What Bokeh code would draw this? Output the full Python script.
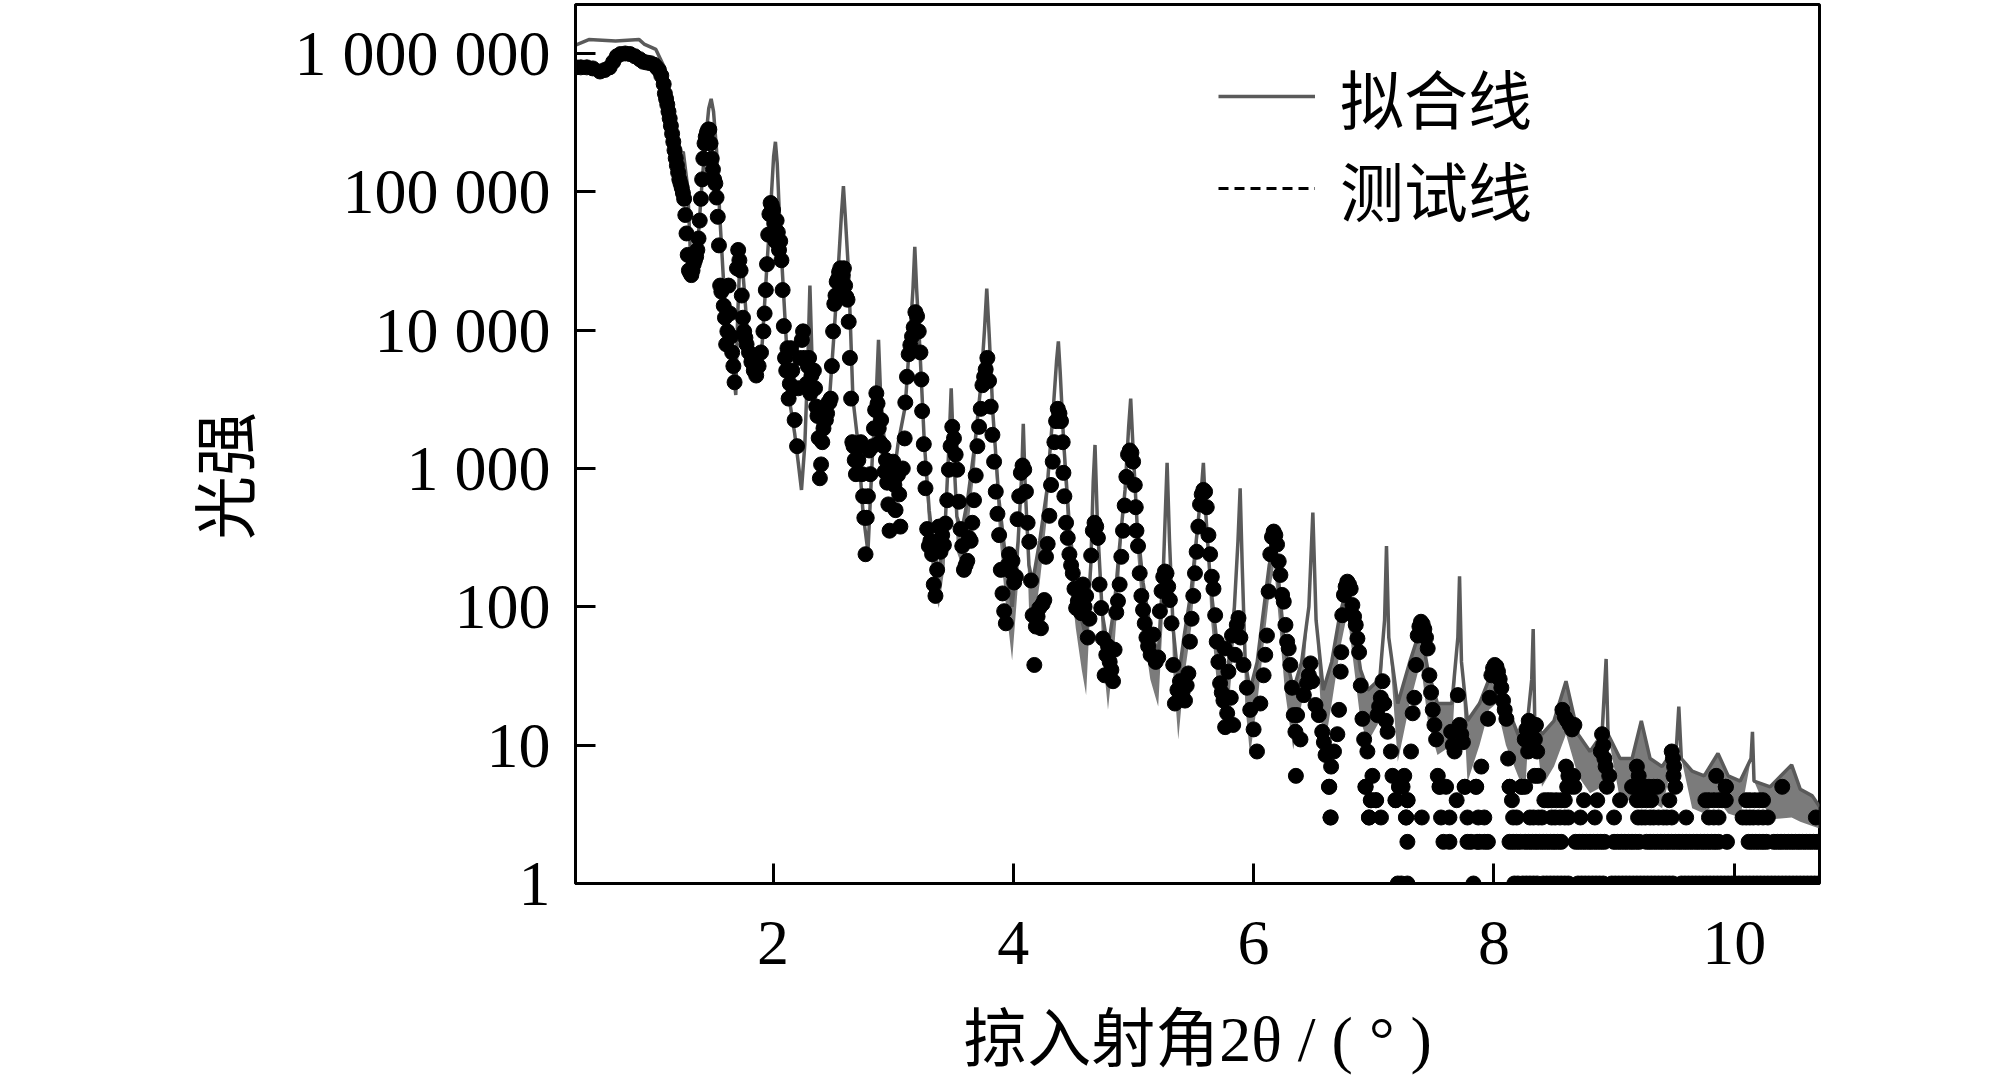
from bokeh.plotting import figure
from bokeh.models import Range1d, FixedTicker, Legend, LegendItem
from bokeh.embed import file_html
from bokeh.resources import INLINE

# ---------------- data ----------------
x_ticks = [2, 4, 6, 8, 10]
y_ticks = [1, 10, 100, 1000, 10000, 100000, 1000000]
y_tick_labels = ["1", "10", "100", "1 000", "10 000", "100 000", "1 000 000"]

legend_fit = "拟合线"
legend_meas = "测试线"
x_title = "掠入射角2θ / ( ° )"
y_title = "光强\u3000"

# fitted curve (upper line) and lower envelope of its fast oscillation
fit_x = [
    0.356, 0.467, 0.690, 0.886, 0.927, 1.025, 1.095, 1.136, 1.192, 1.234,
    1.253, 1.290, 1.310, 1.325, 1.350, 1.380, 1.410, 1.440, 1.465, 1.485,
    1.505, 1.530, 1.560, 1.600, 1.640, 1.670, 1.690, 1.705, 1.720, 1.740,
    1.760, 1.790, 1.830, 1.870, 1.910, 1.950, 1.985, 2.005, 2.020, 2.035,
    2.060, 2.100, 2.140, 2.180, 2.210, 2.237, 2.265, 2.290, 2.307, 2.325,
    2.350, 2.390, 2.430, 2.470, 2.510, 2.545, 2.570, 2.586, 2.600, 2.630,
    2.665, 2.710, 2.750, 2.790, 2.830, 2.860, 2.878, 2.895, 2.930, 2.990,
    3.040, 3.100, 3.140, 3.165, 3.180, 3.195, 3.220, 3.260, 3.300, 3.340,
    3.380, 3.430, 3.465, 3.483, 3.500, 3.530, 3.570, 3.620, 3.680, 3.730,
    3.760, 3.779, 3.800, 3.830, 3.880, 3.930, 3.990, 4.040, 4.070, 4.083,
    4.100, 4.130, 4.160, 4.220, 4.280, 4.330, 4.360, 4.375, 4.390, 4.420,
    4.470, 4.520, 4.570, 4.606, 4.645, 4.665, 4.680, 4.700, 4.740, 4.788,
    4.840, 4.880, 4.930, 4.960, 4.977, 4.995, 5.030, 5.080, 5.140, 5.206,
    5.250, 5.280, 5.300, 5.330, 5.373, 5.420, 5.480, 5.530, 5.565, 5.582,
    5.600, 5.640, 5.700, 5.777, 5.840, 5.870, 5.888, 5.905, 5.930, 5.970,
    6.030, 6.080, 6.130, 6.170, 6.210, 6.260, 6.330, 6.400, 6.460, 6.493,
    6.520, 6.580, 6.650, 6.720, 6.780, 6.830, 6.890, 6.950, 7.050, 7.090,
    7.106, 7.125, 7.200, 7.300, 7.390, 7.450, 7.530, 7.650, 7.700, 7.714,
    7.730, 7.780, 7.880, 7.960, 8.020, 8.100, 8.200, 8.260, 8.315, 8.327,
    8.340, 8.400, 8.500, 8.600, 8.700, 8.800, 8.900, 8.934, 8.950, 9.050,
    9.150, 9.227, 9.300, 9.400, 9.520, 9.539, 9.560, 9.650, 9.750, 9.865,
    9.950, 10.050, 10.140, 10.152, 10.165, 10.300, 10.478, 10.550, 10.650, 10.710,
]
fit_y = [
    1150000, 1260000, 1230000, 1260000, 1170000, 1070000, 794000, 513000, 263000, 186000,
    195000, 107000, 40000, 28000, 33000, 50000, 120000, 240000, 400000, 470000,
    380000, 200000, 60000, 15000, 9000, 5000, 3400, 12000, 26000, 33000,
    20000, 9000, 6000, 4700, 8000, 30000, 90000, 180000, 230000, 160000,
    50000, 12000, 3000, 1800, 1100, 700, 1500, 6000, 21000, 6000,
    3500, 1500, 2100, 3200, 10000, 30000, 70000, 110000, 70000, 25000,
    3200, 1450, 470, 250, 1400, 3500, 8500, 3500, 1400, 700,
    1500, 2800, 9000, 20000, 40000, 20000, 8000, 1500, 500, 250,
    180, 350, 1500, 3800, 1500, 450, 350, 600, 1500, 4000,
    10000, 20000, 9000, 2500, 600, 250, 100, 300, 900, 2100,
    700, 200, 150, 300, 700, 2500, 6000, 8300, 5000, 1500,
    350, 150, 80, 60, 200, 800, 1480, 400, 90, 50,
    100, 250, 700, 2000, 3200, 1500, 400, 150, 70, 45,
    200, 1100, 300, 70, 30, 60, 130, 350, 700, 1100,
    500, 150, 50, 30, 100, 300, 720, 200, 40, 25,
    40, 90, 200, 280, 150, 50, 25, 40, 100, 480,
    80, 25, 40, 90, 140, 80, 35, 25, 30, 80,
    275, 60, 20, 40, 70, 35, 20, 20, 60, 166,
    40, 15, 20, 30, 35, 20, 12, 10, 30, 69,
    15, 12, 15, 29, 12, 9, 12, 42, 12, 8,
    8, 15, 8, 7, 10, 19, 8, 6.5, 6, 8.7,
    6, 5.5, 8, 12.5, 5.5, 5, 7.2, 4.8, 4.3, 3.6,
]
fit_lo = [
    1150000, 1260000, 1230000, 1260000, 1170000, 1070000, 794000, 513000, 263000, 186000,
    195000, 107000, 40000, 28000, 33000, 50000, 120000, 240000, 400000, 470000,
    380000, 200000, 60000, 15000, 9000, 5000, 3400, 12000, 26000, 33000,
    20000, 9000, 6000, 4700, 8000, 30000, 90000, 180000, 230000, 160000,
    50000, 12000, 3000, 1800, 1100, 700, 1500, 6000, 21000, 6000,
    3500, 1500, 2100, 3200, 10000, 30000, 70000, 110000, 70000, 25000,
    3200, 1450, 470, 250, 1400, 3500, 8500, 3500, 1400, 700,
    1500, 2800, 9000, 20000, 40000, 20000, 8000, 1100, 300, 130,
    98, 200, 1500, 3800, 1500, 250, 200, 350, 1000, 4000,
    10000, 20000, 9000, 2000, 350, 120, 41, 150, 900, 2100,
    700, 100, 63, 150, 450, 2500, 6000, 8300, 5000, 1000,
    180, 70, 35, 23, 120, 800, 1480, 400, 50, 18,
    50, 150, 700, 2000, 3200, 1500, 250, 70, 30, 19,
    100, 1100, 300, 35, 11, 30, 70, 250, 700, 1100,
    500, 90, 25, 13, 60, 300, 720, 200, 20, 8.5,
    20, 50, 120, 200, 80, 25, 9.3, 20, 100, 480,
    80, 8.5, 20, 50, 90, 40, 15, 10.5, 15, 80,
    275, 60, 7.6, 20, 40, 15, 8.5, 10, 60, 166,
    40, 5.4, 10, 18, 20, 10, 6, 4.6, 30, 69,
    15, 5, 7, 12, 6, 4.5, 5, 42, 12, 4,
    4, 7, 4, 3.5, 10, 19, 8, 3.5, 3.2, 4,
    3.2, 3, 8, 12.5, 5.5, 2.9, 3, 2.8, 2.6, 2.5,
]

# measured points, 0.36 - 2.98
meas_a_x = [
    0.36, 0.40, 0.45, 0.50, 0.56, 0.60, 0.64, 0.67, 0.70, 0.73,
    0.77, 0.81, 0.85, 0.89, 0.92, 0.95, 0.98, 1.01, 1.03, 1.05,
    1.07, 1.09, 1.10, 1.11, 1.12, 1.13, 1.14, 1.15, 1.16, 1.17,
    1.18, 1.19, 1.20, 1.21, 1.22, 1.23, 1.24, 1.25, 1.26, 1.27,
    1.28, 1.29, 1.30, 1.31, 1.32, 1.33, 1.34, 1.35, 1.36, 1.37,
    1.38, 1.39, 1.40, 1.41, 1.42, 1.43, 1.44, 1.45, 1.46, 1.47,
    1.48, 1.49, 1.50, 1.51, 1.52, 1.53, 1.54, 1.55, 1.56, 1.57,
    1.58, 1.59, 1.60, 1.61, 1.62, 1.63, 1.64, 1.65, 1.66, 1.67,
    1.68, 1.70, 1.71, 1.72, 1.73, 1.74, 1.75, 1.76, 1.77, 1.78,
    1.80, 1.82, 1.84, 1.86, 1.88, 1.90, 1.92, 1.93, 1.94, 1.95,
    1.96, 1.97, 1.98, 1.99, 2.00, 2.01, 2.02, 2.03, 2.04, 2.05,
    2.06, 2.07, 2.08, 2.09, 2.10, 2.11, 2.12, 2.13, 2.14, 2.15,
    2.16, 2.17, 2.18, 2.20, 2.21, 2.22, 2.24, 2.25, 2.26, 2.28,
    2.29, 2.30, 2.31, 2.32, 2.34, 2.35, 2.36, 2.37, 2.38, 2.39,
    2.40, 2.41, 2.42, 2.43, 2.44, 2.45, 2.46, 2.47, 2.48, 2.49,
    2.50, 2.51, 2.52, 2.53, 2.54, 2.55, 2.56, 2.57, 2.58, 2.59,
    2.60, 2.61, 2.62, 2.63, 2.64, 2.65, 2.66, 2.67, 2.68, 2.69,
    2.70, 2.71, 2.72, 2.73, 2.74, 2.75, 2.76, 2.77, 2.78, 2.79,
    2.80, 2.81, 2.83, 2.84, 2.85, 2.86, 2.87, 2.88, 2.89, 2.90,
    2.92, 2.93, 2.94, 2.95, 2.96, 2.97, 2.98,
]
meas_a_y = [
    794000, 794000, 794000, 780000, 741000, 760000, 794000, 870000, 955000, 990000,
    1000000, 990000, 955000, 910000, 871000, 860000, 851000, 830000, 794000, 760000,
    692000, 600000, 513000, 470000, 427000, 380000, 339000, 300000, 263000, 230000,
    200000, 175000, 155000, 138000, 123000, 115000, 107000, 98000, 89000, 68000,
    50000, 35000, 27000, 26000, 25000, 27000, 30000, 32000, 34000, 38000,
    46000, 62000, 89000, 123000, 174000, 224000, 250000, 269000, 282000, 282000,
    224000, 174000, 145000, 123000, 115000, 91000, 66000, 41000, 21000, 19000,
    20000, 15000, 12300, 7900, 9800, 21000, 13200, 9000, 6900, 5500,
    4200, 28000, 38000, 32000, 27000, 17800, 12300, 9800, 8800, 7900,
    6900, 5900, 5100, 4700, 5500, 6900, 9800, 13200, 19500, 30000,
    49000, 69000, 83000, 80000, 74000, 59000, 44000, 62000, 51000, 38000,
    44000, 32000, 19500, 10700, 6300, 5100, 7400, 3200, 4100, 7400,
    5100, 3800, 2240, 1450, 3800, 6300, 8500, 9800, 6300, 4100,
    5500, 6300, 3500, 4700, 5100, 3800, 2800, 2400, 1660, 850,
    1070, 1550, 1950, 2700, 2240, 2500, 3000, 3000, 3200, 5500,
    9800, 15500, 17800, 22400, 23400, 26300, 28000, 27000, 25000, 28000,
    21000, 17400, 16600, 11500, 6300, 3200, 1550, 1450, 1150, 910,
    1450, 1150, 1450, 1550, 910, 630, 440, 240, 440, 630,
    1350, 910, 1450, 1950, 2650, 3500, 2950, 1950, 1550, 2240,
    1450, 950, 1150, 790, 550, 355, 910,
]

# measured points, 3.00 - 5.76
meas_b_x = [
    3.00, 3.01, 3.02, 3.04, 3.05, 3.06, 3.08, 3.096, 3.101, 3.115,
    3.129, 3.143, 3.157, 3.171, 3.185, 3.199, 3.213, 3.227, 3.235, 3.241,
    3.255, 3.262, 3.269, 3.283, 3.297, 3.31, 3.324, 3.338, 3.352, 3.366,
    3.38, 3.394, 3.408, 3.422, 3.436, 3.45, 3.464, 3.478, 3.492, 3.506,
    3.52, 3.533, 3.547, 3.561, 3.575, 3.589, 3.603, 3.617, 3.631, 3.645,
    3.659, 3.673, 3.687, 3.701, 3.715, 3.729, 3.743, 3.757, 3.77, 3.784,
    3.798, 3.812, 3.826, 3.84, 3.854, 3.868, 3.882, 3.896, 3.91, 3.924,
    3.938, 3.952, 3.965, 3.979, 3.993, 4.007, 4.021, 4.035, 4.049, 4.063,
    4.077, 4.091, 4.105, 4.119, 4.133, 4.147, 4.161, 4.175, 4.188, 4.202,
    4.216, 4.23, 4.244, 4.258, 4.272, 4.286, 4.30, 4.314, 4.328, 4.342,
    4.356, 4.37, 4.384, 4.397, 4.411, 4.417, 4.425, 4.439, 4.453, 4.467,
    4.481, 4.495, 4.509, 4.523, 4.537, 4.551, 4.565, 4.579, 4.593, 4.606,
    4.62, 4.634, 4.648, 4.662, 4.676, 4.69, 4.704, 4.718, 4.732, 4.746,
    4.76, 4.774, 4.788, 4.802, 4.816, 4.83, 4.843, 4.857, 4.871, 4.885,
    4.899, 4.913, 4.927, 4.941, 4.955, 4.969, 4.983, 4.997, 5.011, 5.019,
    5.025, 5.038, 5.052, 5.066, 5.08, 5.094, 5.108, 5.122, 5.143, 5.164,
    5.185, 5.206, 5.22, 5.234, 5.248, 5.262, 5.275, 5.289, 5.303, 5.317,
    5.331, 5.345, 5.366, 5.387, 5.408, 5.429, 5.443, 5.457, 5.47, 5.484,
    5.498, 5.512, 5.526, 5.54, 5.554, 5.568, 5.582, 5.596, 5.61, 5.624,
    5.638, 5.652, 5.666, 5.68, 5.693, 5.707, 5.721, 5.735, 5.749, 5.763,
]
meas_b_y = [
    1120, 760, 500, 900, 650, 380, 1000, 1650, 3000, 4600,
    6700, 7800, 9000, 10500, 13500, 12600, 9800, 6900, 4400, 2600,
    1500, 1000, 720, 365, 275, 300, 240, 145, 120, 185,
    380, 250, 330, 280, 400, 590, 980, 1450, 2000, 1650,
    1260, 980, 575, 365, 275, 185, 200, 215, 315, 300,
    405, 590, 890, 1450, 2000, 2700, 4000, 4600, 5200, 6300,
    4300, 2800, 1750, 1120, 680, 470, 330, 185, 125, 93,
    76, 200, 240, 180, 215, 150, 165, 430, 630, 930,
    1050, 980, 680, 405, 295, 155, 87, 38, 72, 85,
    98, 70, 105, 112, 230, 285, 455, 760, 1120, 1550,
    2200, 2700, 2500, 2200, 1550, 930, 630, 405, 315, 240,
    200, 175, 135, 98, 110, 120, 90, 145, 100, 120,
    60, 82, 235, 355, 405, 380, 315, 145, 98, 59,
    32, 45, 52, 40, 35, 29, 49, 91, 110, 145,
    230, 355, 540, 870, 1260, 1350, 1300, 1120, 760, 525,
    355, 275, 175, 120, 95, 76, 60, 52, 45, 63,
    40, 43, 93, 130, 165, 180, 175, 140, 112, 76,
    38, 20, 25, 29, 24, 21, 27, 33, 56, 82,
    120, 175, 250, 380, 550, 650, 700, 680, 525, 330,
    240, 165, 135, 87, 56, 40, 28, 24, 21, 13.5,
]

# measured points, 5.76 - 9.93 (fringe clusters)
meas_c_x = [
    5.76, 5.78, 5.79, 5.81, 5.82, 5.83, 5.845, 5.86, 5.874, 5.89,
    5.916, 5.944, 5.972, 6.000, 6.028, 6.056, 6.083, 6.097, 6.111, 6.125,
    6.139, 6.153, 6.167, 6.181, 6.195, 6.209, 6.223, 6.237, 6.251, 6.265,
    6.279, 6.292, 6.306, 6.320, 6.334, 6.348, 6.352, 6.362, 6.390, 6.418,
    6.445, 6.460, 6.474, 6.488, 6.515, 6.543, 6.571, 6.585, 6.599, 6.627,
    6.641, 6.645, 6.669, 6.697, 6.711, 6.725, 6.730, 6.738, 6.752, 6.766,
    6.780, 6.794, 6.808, 6.822, 6.836, 6.850, 6.864, 6.878, 6.892, 6.906,
    6.920, 6.933, 6.947, 6.961, 6.975, 6.989, 7.017, 7.031, 7.045, 7.059,
    7.073, 7.087, 7.101, 7.115, 7.143, 7.156, 7.184, 7.212, 7.240, 7.254,
    7.268, 7.282, 7.310, 7.324, 7.338, 7.352, 7.366, 7.380, 7.393, 7.407,
    7.421, 7.435, 7.449, 7.463, 7.477, 7.491, 7.505, 7.519, 7.533, 7.547,
    7.602, 7.644, 7.658, 7.672, 7.700, 7.714, 7.728, 7.742, 7.756, 7.853,
    7.895, 7.951, 7.965, 7.979, 7.993, 8.007, 8.021, 8.034, 8.048, 8.062,
    8.076, 8.090, 8.104, 8.118, 8.132, 8.230, 8.257, 8.27, 8.285, 8.29,
    8.31, 8.33, 8.341, 8.35, 8.36, 8.34, 8.369, 8.57, 8.59, 8.61,
    8.63, 8.65, 8.67, 8.62, 8.66, 8.60, 8.89, 8.90, 8.91, 8.92,
    8.93, 8.96, 9.19, 9.205, 9.48, 9.49, 9.50, 9.495, 9.85, 9.93,
]
meas_c_y = [
    50, 17, 34, 22, 62, 14, 45, 74, 83, 60,
    38, 26, 18, 13, 9, 20, 32, 45, 62, 129,
    240, 320, 350, 330, 282, 213, 170, 122, 109, 74,
    56, 50, 38, 26, 16.5, 12.5, 6, 16.5, 11, 23,
    28, 32, 39, 29, 19.5, 16.5, 12.5, 10.5, 8.5, 5,
    3, 7, 9, 12, 18, 34, 47, 87, 122, 140,
    152, 145, 135, 103, 85, 74, 59, 47, 27, 15.5,
    11, 5, 9, 3, 4, 6, 4, 16.5, 19, 22,
    29, 20, 15, 12.5, 9, 6, 4, 5, 5, 6,
    3, 4, 9, 17, 22, 38, 62, 72, 78, 75,
    69, 60, 50, 32, 24, 18, 14, 11, 6, 5,
    5, 12.5, 10, 9, 23, 14, 12, 10.5, 5, 5,
    7, 15.5, 22, 32, 36, 38, 37, 34, 30, 26,
    21, 18, 15.5, 8, 5, 5, 11, 13, 9, 15,
    12, 11, 11, 14, 9, 6, 6, 18, 16, 15,
    14, 13, 14, 6, 6, 7, 9, 12, 10, 8,
    7, 6, 7, 6, 9, 8, 7, 6, 6, 5,
]

# low-count measured points (integer counts) at large angle
count1_x = [7.20, 7.23, 7.28, 7.83, 8.17, 8.20, 8.24, 8.27, 8.30, 8.33, 8.36, 8.41, 8.44,
            8.47, 8.50, 8.53, 8.56, 8.59, 8.62, 8.70, 8.73, 8.76, 8.79, 8.82, 8.85, 8.88,
            8.91, 8.98, 9.01, 9.04, 9.07, 9.10, 9.13, 9.16, 9.19, 9.22, 9.25, 9.28, 9.31,
            9.34, 9.37, 9.40, 9.43, 9.46, 9.49, 9.56, 9.59, 9.62, 9.65, 9.68, 9.71, 9.74,
            9.77, 9.80, 9.83, 9.86, 9.89, 9.92, 9.95, 9.98, 10.01, 10.04, 10.07, 10.10,
            10.13, 10.16, 10.19, 10.22, 10.25, 10.28, 10.31, 10.34, 10.37, 10.40, 10.43,
            10.46, 10.49, 10.52, 10.55, 10.58, 10.61, 10.64, 10.67, 10.70, 10.73]
count2_x = [7.28, 7.58, 7.63, 7.78, 7.81, 7.86, 7.88, 7.92, 7.95, 8.13, 8.16, 8.19, 8.22,
            8.26, 8.29, 8.32, 8.35, 8.38, 8.41, 8.44, 8.47, 8.50, 8.53, 8.56, 8.68, 8.71,
            8.74, 8.77, 8.80, 8.83, 8.86, 8.89, 8.92, 9.00, 9.03, 9.06, 9.09, 9.12, 9.15,
            9.18, 9.21, 9.27, 9.30, 9.33, 9.36, 9.39, 9.42, 9.45, 9.48, 9.51, 9.54, 9.57,
            9.60, 9.63, 9.66, 9.69, 9.72, 9.75, 9.78, 9.81, 9.84, 9.87, 9.94, 10.12, 10.15,
            10.18, 10.21, 10.24, 10.27, 10.33, 10.36, 10.39, 10.42, 10.45, 10.48, 10.51,
            10.54, 10.57, 10.60, 10.63, 10.66, 10.69, 10.72]
count3_x = [6.64, 6.96, 7.06, 7.27, 7.40, 7.56, 7.63, 7.78, 7.87, 7.92, 8.16, 8.19, 8.30,
            8.33, 8.37, 8.40, 8.48, 8.51, 8.55, 8.59, 8.62, 8.72, 8.84, 9.00, 9.20, 9.23,
            9.26, 9.30, 9.33, 9.37, 9.41, 9.44, 9.48, 9.60, 9.79, 9.83, 9.87, 10.07, 10.10,
            10.13, 10.16, 10.20, 10.24, 10.28, 10.68]
count4_x = [6.98, 7.02, 7.18, 7.28, 7.69, 8.15, 8.42, 8.45, 8.48, 8.52, 8.56, 8.59, 8.75,
            8.86, 9.05, 9.19, 9.23, 9.27, 9.31, 9.46, 9.76, 9.79, 9.83, 9.87, 9.90, 9.93,
            10.10, 10.13, 10.17, 10.21, 10.24]
count5_x = [6.63, 6.93, 7.21, 7.55, 7.76, 7.85, 8.13, 8.23, 8.26, 8.61, 8.64, 8.67, 8.94,
            9.15, 9.19, 9.22, 9.26, 9.29, 9.33, 9.36, 9.51, 9.93, 10.40]

meas_x = (meas_a_x + meas_b_x + meas_c_x
          + count1_x + count2_x + count3_x + count4_x + count5_x)
meas_y = (meas_a_y + meas_b_y + meas_c_y
          + [1] * len(count1_x) + [2] * len(count2_x) + [3] * len(count3_x)
          + [4] * len(count4_x) + [5] * len(count5_x))

# ---------------- figure ----------------
SERIF = "Liberation Serif"
CJK = "Noto Sans CJK SC"

p = figure(width=2000, height=1087,
           x_range=Range1d(0.356, 10.71), y_range=Range1d(1, 2.26e6),
           y_axis_type="log", output_backend="svg", toolbar_location=None,
           min_border_left=575, min_border_right=181, min_border_top=4,
           min_border_bottom=204)
p.grid.visible = False
p.outline_line_color = "black"
p.outline_line_width = 3
p.outline_line_alpha = 1.0
p.background_fill_color = "white"
p.border_fill_color = "white"

p.varea(x=fit_x, y1=fit_lo, y2=fit_y, fill_color="#5a5a5a", fill_alpha=0.8)
fit_r = p.line(fit_x, fit_y, line_color="#5a5a5a", line_width=3.5)
p.scatter(meas_x, meas_y, marker="circle", size=15,
          fill_color="black", line_color="black")
# legend-only renderer for the dashed "measured" entry (kept outside the x range)
dash_r = p.line(x=[-10, -9], y=[10, 10], line_color="black", line_width=3,
                line_dash="10 6")

for ax in (p.xaxis[0], p.yaxis[0]):
    ax.axis_line_color = "black"
    ax.axis_line_width = 3
    ax.major_tick_line_color = "black"
    ax.major_tick_line_width = 3
    ax.major_tick_in = 20
    ax.major_tick_out = 0
    ax.minor_tick_line_color = None
    ax.major_label_text_font = SERIF
    ax.major_label_text_font_size = "64px"
    ax.major_label_text_color = "black"
    ax.axis_label_text_font_style = "normal"
    ax.axis_label_text_color = "black"
    ax.axis_label_text_font_size = "64px"

p.xaxis.ticker = FixedTicker(ticks=x_ticks)
p.yaxis.ticker = FixedTicker(ticks=y_ticks)
p.yaxis.major_label_overrides = dict(zip(y_ticks, y_tick_labels))

p.xaxis.major_label_standoff = 38
p.xaxis.axis_label = x_title
p.xaxis.axis_label_text_font = SERIF + ", " + CJK
p.xaxis.axis_label_standoff = 37

p.yaxis.major_label_standoff = 25
p.yaxis.axis_label = y_title
p.yaxis.axis_label_text_font = CJK
p.yaxis.axis_label_standoff = 25

legend = Legend(items=[LegendItem(label=legend_fit, renderers=[fit_r]),
                       LegendItem(label=legend_meas, renderers=[dash_r])],
                location=(643, 649), orientation="vertical",
                border_line_color=None, background_fill_alpha=0,
                label_text_font=CJK, label_text_font_size="64px",
                label_text_color="black",
                glyph_width=97, glyph_height=60, label_standoff=25,
                spacing=-5, padding=0, margin=0)
p.add_layout(legend)

open("out.html", "w").write(file_html(p, INLINE))
